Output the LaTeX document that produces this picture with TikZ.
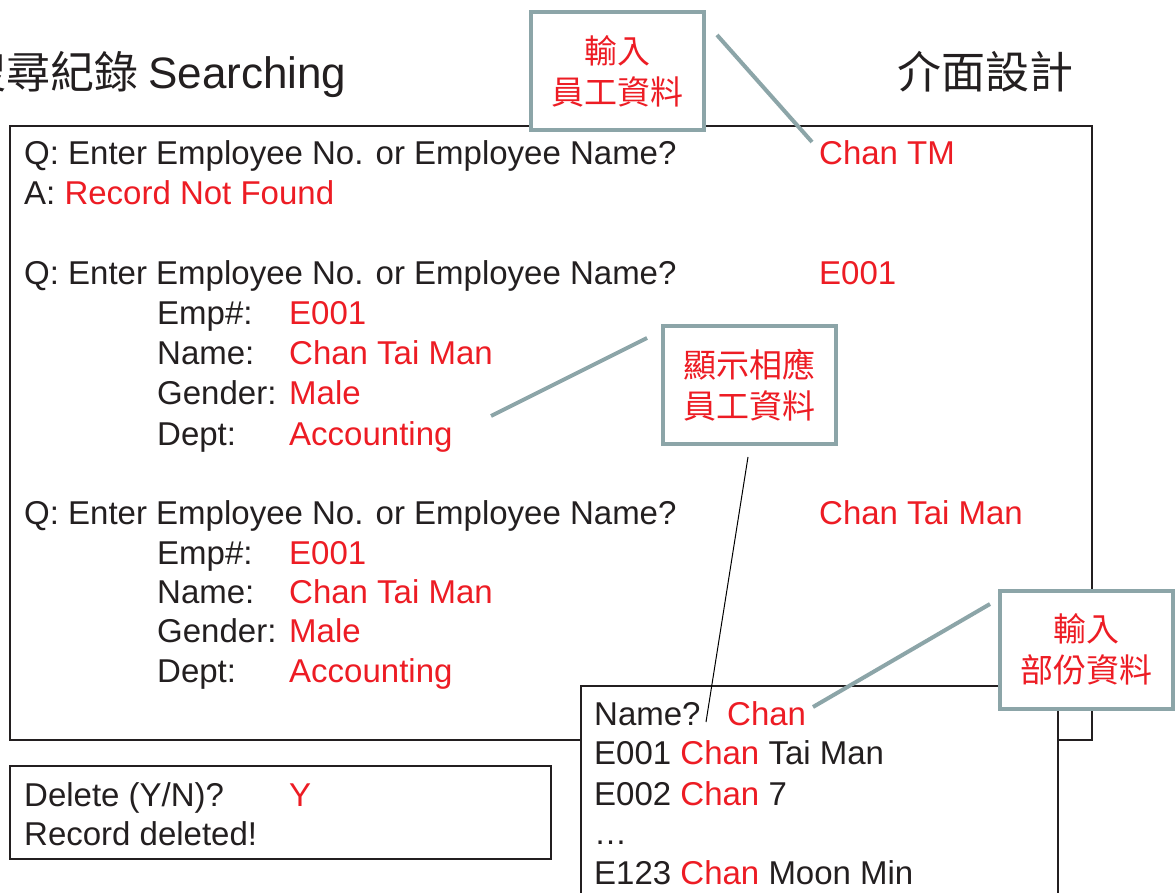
\documentclass[tikz,border=0pt]{standalone}
\usepackage{fontspec}
\setmainfont{Liberation Sans}
\newfontfamily\cjk{Noto Sans CJK TC}
\definecolor{ink}{HTML}{231F20}
\definecolor{hl}{HTML}{ED1C24}
\definecolor{callc}{HTML}{8CA5A8}
\begin{document}
\begin{tikzpicture}[x=1pt,y=-1pt,
  txt/.style={inner sep=0pt, anchor=base west, text=ink, font=\fontsize{33}{40}\selectfont},
  hot/.style={text=hl},
  big/.style={inner sep=0pt, text=ink, font=\fontsize{44}{50}\selectfont},
  bigcjk/.style={inner sep=0pt, text=ink, font=\cjk\fontsize{44}{50}\selectfont},
  boxst/.style={draw=ink, line width=1.5pt},
  callout/.style={draw=callc, line width=4pt, fill=white, minimum width=173pt, minimum height=118pt, inner sep=0pt, align=center, text=hl, font=\cjk\fontsize{33}{41}\selectfont},
  conn/.style={draw=callc, line width=4pt},
  thin/.style={draw=black, line width=1pt}]
\useasboundingbox (0,0) rectangle (1176,893);
\fill[white] (0,0) rectangle (1176,893);

% titles
\node[bigcjk, anchor=base east] (t1) at (139,89) {搜尋紀錄};
\node[big, anchor=base west] (t2) at (148,89) {Searching};
\node[bigcjk, anchor=base west] (t3) at (897,89) {介面設計};

% boxes
\draw[boxst] (10,126) rectangle (1092,740);
\draw[boxst] (10,766) rectangle (551,859);

% main box text
\node[txt] (q1) at (24,165) {Q: Enter Employee No. or Employee Name?};
\node[txt,hot] (v1) at (819,165) {Chan TM};
\node[txt] (a1) at (24,205) {A: \textcolor{hl}{Record Not Found}};

\node[txt] (q2) at (24,285) {Q: Enter Employee No. or Employee Name?};
\node[txt,hot] (v2) at (819,285) {E001};
\node[txt] (l21) at (157,325) {Emp\#:};
\node[txt,hot] (r21) at (289,325) {E001};
\node[txt] (l22) at (157,365) {Name:};
\node[txt,hot] (r22) at (289,365) {Chan Tai Man};
\node[txt] (l23) at (157,405) {Gender:};
\node[txt,hot] (r23) at (289,405) {Male};
\node[txt] (l24) at (157,445) {Dept:};
\node[txt,hot] (r24) at (289,445) {Accounting};

\node[txt] (q3) at (24,524) {Q: Enter Employee No. or Employee Name?};
\node[txt,hot] (v3) at (819,524) {Chan Tai Man};
\node[txt] (l31) at (157,564) {Emp\#:};
\node[txt,hot] (r31) at (289,564) {E001};
\node[txt] (l32) at (157,603) {Name:};
\node[txt,hot] (r32) at (289,603) {Chan Tai Man};
\node[txt] (l33) at (157,642) {Gender:};
\node[txt,hot] (r33) at (289,642) {Male};
\node[txt] (l34) at (157,682) {Dept:};
\node[txt,hot] (r34) at (289,682) {Accounting};

% delete box text
\node[txt] (d1) at (24,806) {Delete (Y/N)?};
\node[txt,hot] (d2) at (289,806) {Y};
\node[txt] (d3) at (24,845) {Record deleted!};

% name box
\path[boxst, fill=white] (581,900) -- (581,686) -- (1058,686) -- (1058,900);
\node[txt] (n1) at (594,725) {Name?};
\node[txt,hot] (n1v) at (727,725) {Chan};
\node[txt] (n2) at (594,764) {E001 \textcolor{hl}{Chan} Tai Man};
\node[txt] (n3) at (594,805) {E002 \textcolor{hl}{Chan} 7};
\node[txt] (n4) at (594,844) {\char"2026};
\node[txt] (n5) at (594,884) {E123 \textcolor{hl}{Chan} Moon Min};

% callouts
\node[callout] (k1) at (617.5,71) {輸入\\員工資料};
\node[callout] (k2) at (749,385) {顯示相應\\員工資料};
\node[callout] (k3) at (1086.5,649.5) {輸入\\部份資料};

% connectors
\coordinate (k1a) at (717,35);
\coordinate (k1b) at (812,142);
\draw[conn] (k1a) -- (k1b);
\coordinate (k2a) at (647,338);
\coordinate (k2b) at (491,416);
\draw[conn] (k2a) -- (k2b);
\coordinate (k2c) at (748,457);
\coordinate (k2d) at (706,722);
\draw[thin] (k2c) -- (k2d);
\coordinate (k3a) at (990,604);
\coordinate (k3b) at (813,707);
\draw[conn] (k3a) -- (k3b);
\end{tikzpicture}
\end{document}
